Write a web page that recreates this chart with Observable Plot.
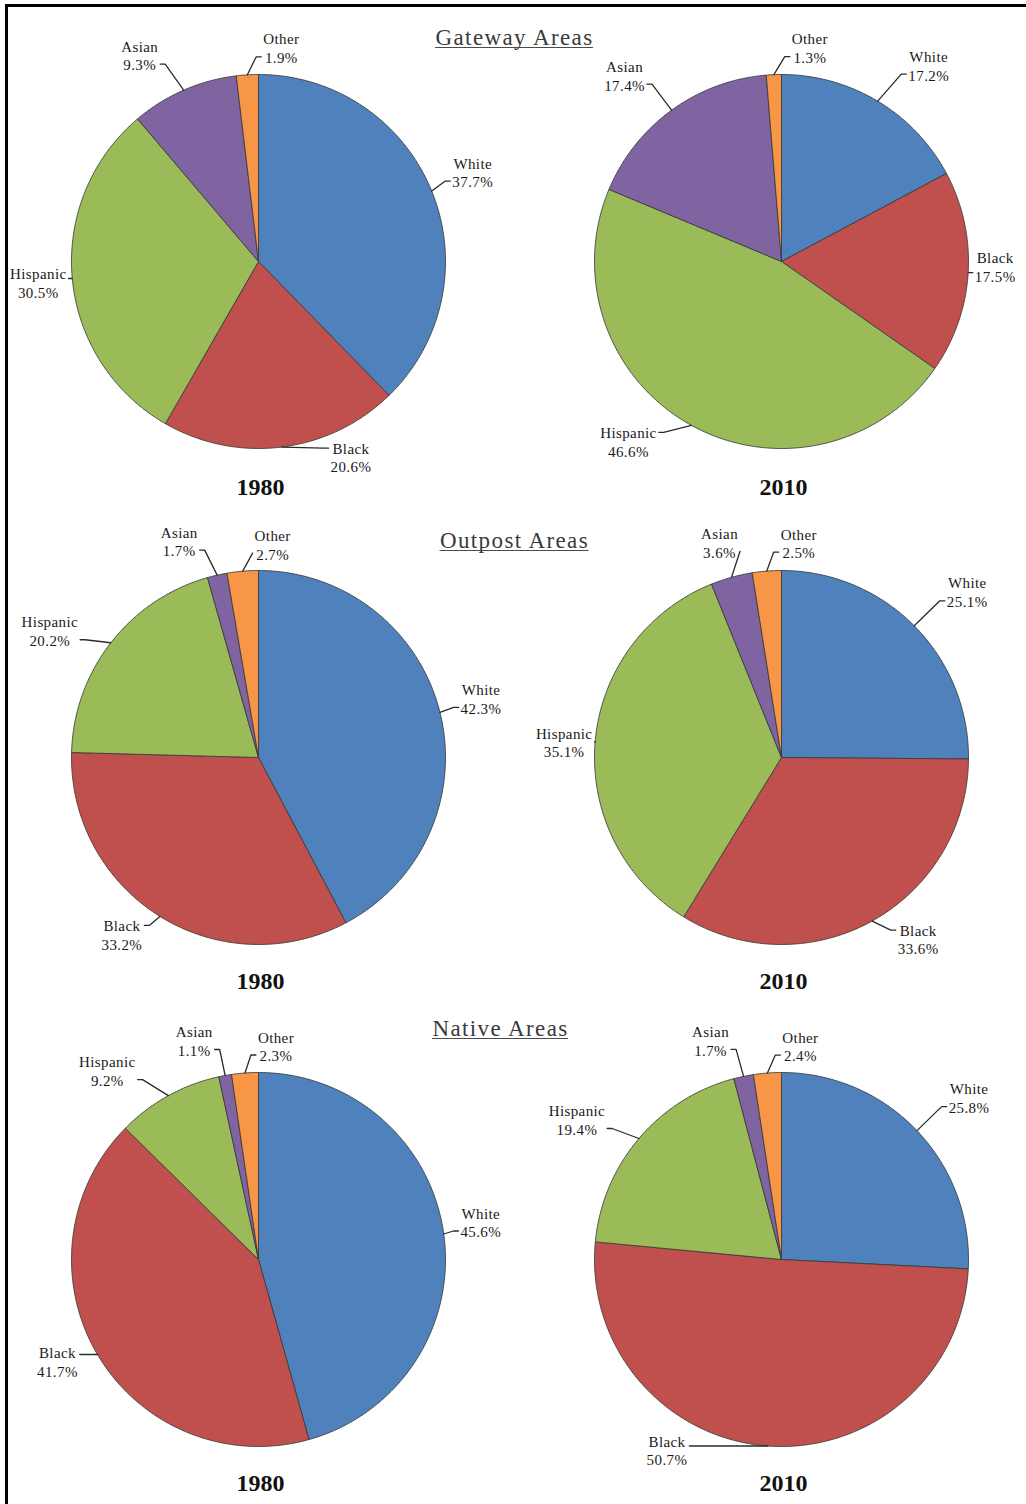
<!DOCTYPE html>
<html>
<head>
<meta charset="utf-8">
<script src="https://cdn.jsdelivr.net/npm/d3@7"></script>
<script src="https://cdn.jsdelivr.net/npm/@observablehq/plot@0.6"></script>
<style>
  html, body { margin: 0; padding: 0; background: #fff; }
  #wrap { position: relative; width: 1026px; height: 1504px; overflow: hidden; }
  #frame { position: absolute; left: 5px; top: 4px; right: 0; bottom: 0;
           border-top: 3px solid #000; border-left: 3px solid #000; pointer-events: none; }
</style>
</head>
<body>
<div id="wrap"><div id="chart"></div><div id="frame"></div></div>
<script>
// Population shares by race/ethnicity, in percent
const categories = ["White", "Black", "Hispanic", "Asian", "Other"];
const areaNames = ["Gateway Areas", "Outpost Areas", "Native Areas"];
const yearLabels = ["1980", "2010"];

const gateway1980 = [37.7, 20.6, 30.5, 9.3, 1.9];
const gateway2010 = [17.2, 17.5, 46.6, 17.4, 1.3];
const outpost1980 = [42.3, 33.2, 20.2, 1.7, 2.7];
const outpost2010 = [25.1, 33.6, 35.1, 3.6, 2.5];
const native1980 = [45.6, 41.7, 9.2, 1.1, 2.3];
const native2010 = [25.8, 50.7, 19.4, 1.7, 2.4];

// Styling and layout
const sliceColors = ["#4f81bd", "#c0504d", "#9bbb59", "#8064a2", "#f79646"];
const W = 1026, H = 1504, R = 187;
const colX = [258, 781];
const rowY = [261, 757, 1259];
const titlePos = [[514, 37], [514, 540], [500, 1028]];
const yearY = [487, 981, 1483];
const font = "Liberation Serif, Times New Roman, serif";
const titleSize = 23, titleSpacing = 1.4;
const labelSize = 15, labelSpacing = 0.4;

// Label offset from the leader's start point on the rim, per pie, in category order
const labelNudge = [
  [[[41, -19], [69, 10], [-34, 4], [-44, -35], [34, -27]],
   [[51, -36], [27, -6], [-63, 16], [-47, -35], [36, -27]]],
  [[[41, -14], [-38, 18], [-61, -12], [-38, -34], [30, -27]],
   [[53, -34], [46, 18], [-31, 0], [-12, -35], [32, -28]]],
  [[[37, -12], [-40, 7], [-61, -25], [-31, -35], [31, -27]],
   [[52, -33], [-101, 4], [-62, -19], [-33, -36], [33, -27]]]
];

const pies = [
  [gateway1980, gateway2010],
  [outpost1980, outpost2010],
  [native1980, native2010]
];

const ctx = document.createElement("canvas").getContext("2d");
const measure = (s, size, spacing) => {
  ctx.font = `${size}px ${font}`;
  return ctx.measureText(s).width + s.length * spacing;
};

const pie = d3.pie().sort(null).value(d => d.value);
const slicePoints = [], leaderPoints = [], labels = [];

pies.forEach((row, i) => row.forEach((values, j) => {
  const cx = colX[j], cy = rowY[i];
  const arcs = pie(categories.map((category, k) => ({category, value: values[k]})));
  arcs.forEach((a, k) => {
    const id = `${i}-${j}-${k}`;
    const category = a.data.category;
    // wedge outline: centre, rim points, back to centre
    slicePoints.push({slice: id, category, x: cx, y: cy});
    const n = Math.max(2, Math.ceil((a.endAngle - a.startAngle) / (Math.PI / 360)));
    for (let s = 0; s <= n; ++s) {
      const t = a.startAngle + (a.endAngle - a.startAngle) * s / n;
      slicePoints.push({slice: id, category, x: cx + R * Math.sin(t), y: cy - R * Math.cos(t)});
    }
    slicePoints.push({slice: id, category, x: cx, y: cy});

    // label and its leader line
    const mid = (a.startAngle + a.endAngle) / 2;
    const ex = cx + R * Math.sin(mid), ey = cy - R * Math.cos(mid);
    const [dx, dy] = labelNudge[i][j][k];
    const lx = ex + dx, ly = ey + dy;
    const pct = `${a.data.value.toFixed(1)}%`;
    labels.push({x: lx, y: ly, text: `${category}\n${pct}`});
    const w = Math.max(measure(category, labelSize, labelSpacing), measure(pct, labelSize, labelSpacing));
    const side = dx < 0 ? 1 : -1;
    const endX = lx + side * (w / 2 + 2);
    const endY = Math.max(ly - 9, Math.min(ly + 9, ey));
    leaderPoints.push({id, x: ex, y: ey});
    if (Math.abs(ex - endX) > 10) leaderPoints.push({id, x: endX + side * 5, y: endY});
    leaderPoints.push({id, x: endX, y: endY});
  });
}));

const titles = areaNames.map((name, i) => ({x: titlePos[i][0], y: titlePos[i][1], text: name}));
// underline under each section title, as wide as the title text
const underlines = titles.map(t => {
  const w = measure(t.text, titleSize, titleSpacing) - titleSpacing;
  return {x1: t.x - w / 2, x2: t.x + w / 2, y: t.y + 10};
});
const yearTexts = [];
areaNames.forEach((_, i) => yearLabels.forEach((yr, j) => yearTexts.push({x: colX[j] + 2, y: yearY[i], text: yr})));

const chart = Plot.plot({
  width: W,
  height: H,
  margin: 0,
  style: {background: "transparent"},
  x: {domain: [0, W], range: [0, W], axis: null},
  y: {domain: [0, H], range: [0, H], axis: null},
  color: {domain: categories, range: sliceColors},
  marks: [
    Plot.line(slicePoints, {
      x: "x", y: "y", z: "slice", fill: "category",
      stroke: "#3a3a3a", strokeWidth: 1, strokeOpacity: 0.85, strokeLinejoin: "round", curve: "linear"
    }),
    Plot.line(leaderPoints, {x: "x", y: "y", z: "id", stroke: "#2b2b2b", strokeWidth: 1.3, curve: "linear"}),
    Plot.text(labels, {
      x: "x", y: "y", text: "text", fontSize: labelSize, lineHeight: 1.25,
      fontFamily: font, fill: "#1a1a1a", textAnchor: "middle"
    }),
    Plot.text(titles, {
      x: "x", y: "y", text: "text", fontSize: titleSize, fontFamily: font,
      fill: "#3a3a3a", textAnchor: "middle"
    }),
    Plot.ruleY(underlines, {y: "y", x1: "x1", x2: "x2", stroke: "#4a4a4a", strokeWidth: 1.2}),
    Plot.text(yearTexts, {
      x: "x", y: "y", text: "text", fontSize: 24, fontWeight: "bold", fontFamily: font,
      fill: "#111", textAnchor: "middle"
    })
  ]
});

// letter spacing for the titles and the slice labels
d3.select(chart).selectAll("text")
  .filter(function() { return areaNames.includes(this.textContent); })
  .style("letter-spacing", `${titleSpacing}px`);
d3.select(chart).selectAll("text")
  .filter(function() { return this.textContent.includes("%"); })
  .style("letter-spacing", `${labelSpacing}px`);

document.getElementById("chart").appendChild(chart);
</script>
</body>
</html>
